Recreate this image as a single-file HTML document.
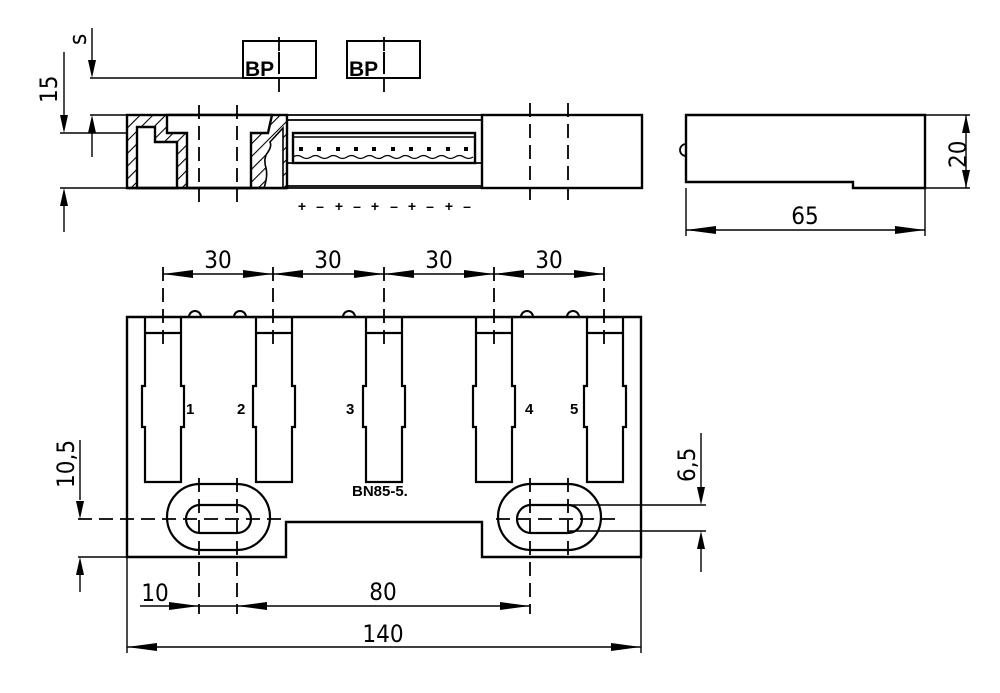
<!DOCTYPE html>
<html><head><meta charset="utf-8"><style>
html,body{margin:0;padding:0;background:#fff}
svg{display:block}
.d{font-family:"DejaVu Sans Condensed","Liberation Sans Narrow","Liberation Sans",sans-serif;font-size:24px;fill:#000}
.b{font-family:"Liberation Sans",sans-serif;font-weight:bold;fill:#000}
.pm{font-family:"Liberation Sans",sans-serif;font-size:14px;fill:#000;font-weight:bold}
</style></head><body>
<svg width="1000" height="693" viewBox="0 0 1000 693" xmlns="http://www.w3.org/2000/svg">
<defs>
<pattern id="h" patternUnits="userSpaceOnUse" width="9" height="9" patternTransform="rotate(45)">
<rect width="9" height="9" fill="#fff"/><line x1="0" y1="0" x2="0" y2="9" stroke="#000" stroke-width="2.2"/>
</pattern>
</defs>
<g fill="none" stroke="#000" stroke-width="1.4">
<!-- ===== TOP SECTION VIEW ===== -->
<rect x="127" y="115" width="160" height="73" fill="url(#h)" stroke-width="2.4"/>
<path d="M167,115 L272,115 L268,133 L251,133 L251,188 L187,188 L187,133 L167,133 Z" fill="#fff" stroke-width="2.4"/>
<path d="M137,127 L155,127 L155,142 L177,142 L177,188 L137,188 Z" fill="#fff" stroke-width="2.4"/>
<path d="M270,142 L283,128 L283,188 L264,188 Q268,176 266,168 Q263,158 268,152 Q272,146 270,142 Z" fill="#fff" stroke-width="1.6"/>
<line x1="127" y1="188" x2="287" y2="188" stroke-width="2.4"/>
<!-- middle -->
<path d="M287,115 H482 M287,120 H482 M287,163 H482 M287,186 H482 M287,188 H482" stroke-width="1.8"/>
<rect x="293" y="133" width="182" height="30" stroke-width="2.4"/>
<line x1="293" y1="137" x2="475" y2="137"/>
<path d="M293,157 q4.5,-3 9,0 t9,0 t9,0 t9,0 t9,0 t9,0 t9,0 t9,0 t9,0 t9,0 t9,0 t9,0 t9,0 t9,0 t9,0 t9,0 t9,0 t9,0 t9,0 t9,0" stroke-width="1.3"/>
<rect x="482" y="115" width="160" height="73" stroke-width="2.4"/>
<!-- dashed -->
<g stroke-dasharray="14,7" stroke-width="1.8">
<path d="M199,105 V202 M237,105 V202 M530,103 V200 M568,103 V200"/>
<path d="M279,37 V92 M384,37 V92"/>
</g>
<!-- BP boxes -->
<rect x="243" y="41" width="73" height="37" stroke-width="2"/>
<rect x="347" y="41" width="73" height="37" stroke-width="2"/>
<path d="M279,52 V74 M384,52 V74" stroke-width="2"/>
<!-- left dims -->
<path d="M90,78 H243 M90,115 H127 M60,133 H127 M60,188 H127"/>
<path d="M92,28 V62 M92,131 V157 M64,52 V117 M64,204 V232"/>
<!-- right view -->
<path d="M686,115 H925 V188 H853 V182 H686 Z" stroke-width="2.4"/>
<path d="M686,144 A6,6 0 0 0 686,156" stroke-width="1.8"/>
<path d="M925,115 H970 M925,188 H970 M966,115 V188 M686,188 V236 M925,188 V236 M686,230 H925"/>
<!-- ===== BOTTOM VIEW ===== -->
<path d="M127,317 H641 V557 H482 V522 H286 V557 H127 Z" stroke-width="2.4"/>
<g stroke-width="2">
<path d="M189,317 A6,6 0 0 1 201,317 M234,317 A6,6 0 0 1 246,317 M343,317 A6,6 0 0 1 355,317 M521,317 A6,6 0 0 1 533,317 M567,317 A6,6 0 0 1 579,317"/>
</g>
<g stroke-width="2.2">
<path d="M145,317 V386 H142 V427 H145 V482 H181 V427 H184 V386 H181 V317 M145,333 H181"/>
<path d="M256,317 V386 H253 V427 H256 V482 H292 V427 H295 V386 H292 V317 M256,333 H292"/>
<path d="M366,317 V386 H363 V427 H366 V482 H402 V427 H405 V386 H402 V317 M366,333 H402"/>
<path d="M476,317 V386 H473 V427 H476 V482 H512 V427 H515 V386 H512 V317 M476,333 H512"/>
<path d="M587,317 V386 H584 V427 H587 V482 H623 V427 H626 V386 H623 V317 M587,333 H623"/>
<path d="M200,484 H237 A33,33 0 0 1 237,550 H200 A33,33 0 0 1 200,484 Z"/>
<path d="M200,505 H237 A14,14 0 0 1 237,533 H200 A14,14 0 0 1 200,505 Z"/>
<path d="M531,484 H568 A33,33 0 0 1 568,550 H531 A33,33 0 0 1 531,484 Z"/>
<path d="M531,505 H568 A14,14 0 0 1 568,533 H531 A14,14 0 0 1 531,505 Z"/>
</g>
<g stroke-dasharray="14,7" stroke-width="1.8">
<path d="M163,267 V345 M273,267 V345 M384,267 V345 M494,267 V345 M604,267 V345"/>
<path d="M78,519 H282 M496,519 H616"/>
<path d="M199,478 V614 M237,478 V614 M530,478 V614 M568,478 V560"/>
</g>
<!-- dims bottom -->
<path d="M163,274 H604"/>
<path d="M78,557 H127 M80,440 V500 M80,574 V592"/>
<path d="M568,505 H706 M568,531 H706 M701,433 V490 M701,547 V572"/>
<path d="M140,606 H199 M199,606 H530 M127,557 V653 M641,557 V653 M127,647 H641"/>
</g>
<!-- arrowheads -->
<g fill="#000">
<path d="M92,78 L88,60 L96,60 Z"/><path d="M92,115 L88,133 L96,133 Z"/>
<path d="M64,133 L60,115 L68,115 Z"/><path d="M64,188 L60,206 L68,206 Z"/>
<path d="M966,115 L962,133 L970,133 Z"/><path d="M966,188 L962,170 L970,170 Z"/>
<path d="M686,230 L716,226 L716,234 Z"/><path d="M925,230 L895,226 L895,234 Z"/>
<path d="M163,274 L193,270 L193,278 Z"/><path d="M273,274 L243,270 L243,278 Z"/>
<path d="M273,274 L303,270 L303,278 Z"/><path d="M384,274 L354,270 L354,278 Z"/>
<path d="M384,274 L414,270 L414,278 Z"/><path d="M494,274 L464,270 L464,278 Z"/>
<path d="M494,274 L524,270 L524,278 Z"/><path d="M604,274 L574,270 L574,278 Z"/>
<path d="M80,519 L76,501 L84,501 Z"/><path d="M80,557 L76,575 L84,575 Z"/>
<path d="M701,505 L697,487 L705,487 Z"/><path d="M701,531 L697,549 L705,549 Z"/>
<path d="M199,606 L169,602 L169,610 Z"/>
<path d="M237,606 L267,602 L267,610 Z"/><path d="M530,606 L500,602 L500,610 Z"/>
<path d="M127,647 L157,643 L157,651 Z"/><path d="M641,647 L611,643 L611,651 Z"/>
<rect x="299" y="147" width="4" height="4"/><rect x="317" y="147" width="4" height="4"/><rect x="336" y="147" width="4" height="4"/><rect x="354" y="147" width="4" height="4"/><rect x="372" y="147" width="4" height="4"/><rect x="391" y="147" width="4" height="4"/><rect x="409" y="147" width="4" height="4"/><rect x="427" y="147" width="4" height="4"/><rect x="446" y="147" width="4" height="4"/><rect x="464" y="147" width="4" height="4"/>
</g>
<!-- texts -->
<text class="b" x="245" y="76" font-size="21">BP</text>
<text class="b" x="349" y="76" font-size="21">BP</text>
<text class="d" x="0" y="0" transform="translate(86,45) rotate(-90)" font-size="21">s</text>
<text class="d" x="0" y="0" transform="translate(57,103) rotate(-90)">15</text>
<text class="d" x="0" y="0" transform="translate(966,168) rotate(-90)">20</text>
<text class="d" x="805" y="224" text-anchor="middle">65</text>
<text class="d" x="218" y="268" text-anchor="middle">30</text>
<text class="d" x="328" y="268" text-anchor="middle">30</text>
<text class="d" x="439" y="268" text-anchor="middle">30</text>
<text class="d" x="549" y="268" text-anchor="middle">30</text>
<text class="d" x="0" y="0" transform="translate(74,488) rotate(-90)">10,5</text>
<text class="d" x="0" y="0" transform="translate(695,482) rotate(-90)">6,5</text>
<text class="d" x="155" y="601" text-anchor="middle">10</text>
<text class="d" x="383" y="600" text-anchor="middle">80</text>
<text class="d" x="383" y="642" text-anchor="middle">140</text>
<text class="b" x="186" y="414" font-size="15">1</text>
<text class="b" x="237" y="414" font-size="15">2</text>
<text class="b" x="346" y="414" font-size="15">3</text>
<text class="b" x="525" y="414" font-size="15">4</text>
<text class="b" x="570" y="414" font-size="15">5</text>
<text class="b" x="352" y="496" font-size="15">BN85-5.</text>
<g class="pm" text-anchor="middle">
<text x="302" y="211">+</text><text x="320" y="211">–</text><text x="339" y="211">+</text><text x="357" y="211">–</text><text x="375" y="211">+</text><text x="394" y="211">–</text><text x="412" y="211">+</text><text x="430" y="211">–</text><text x="449" y="211">+</text><text x="467" y="211">–</text>
</g>
</svg>
</body></html>
